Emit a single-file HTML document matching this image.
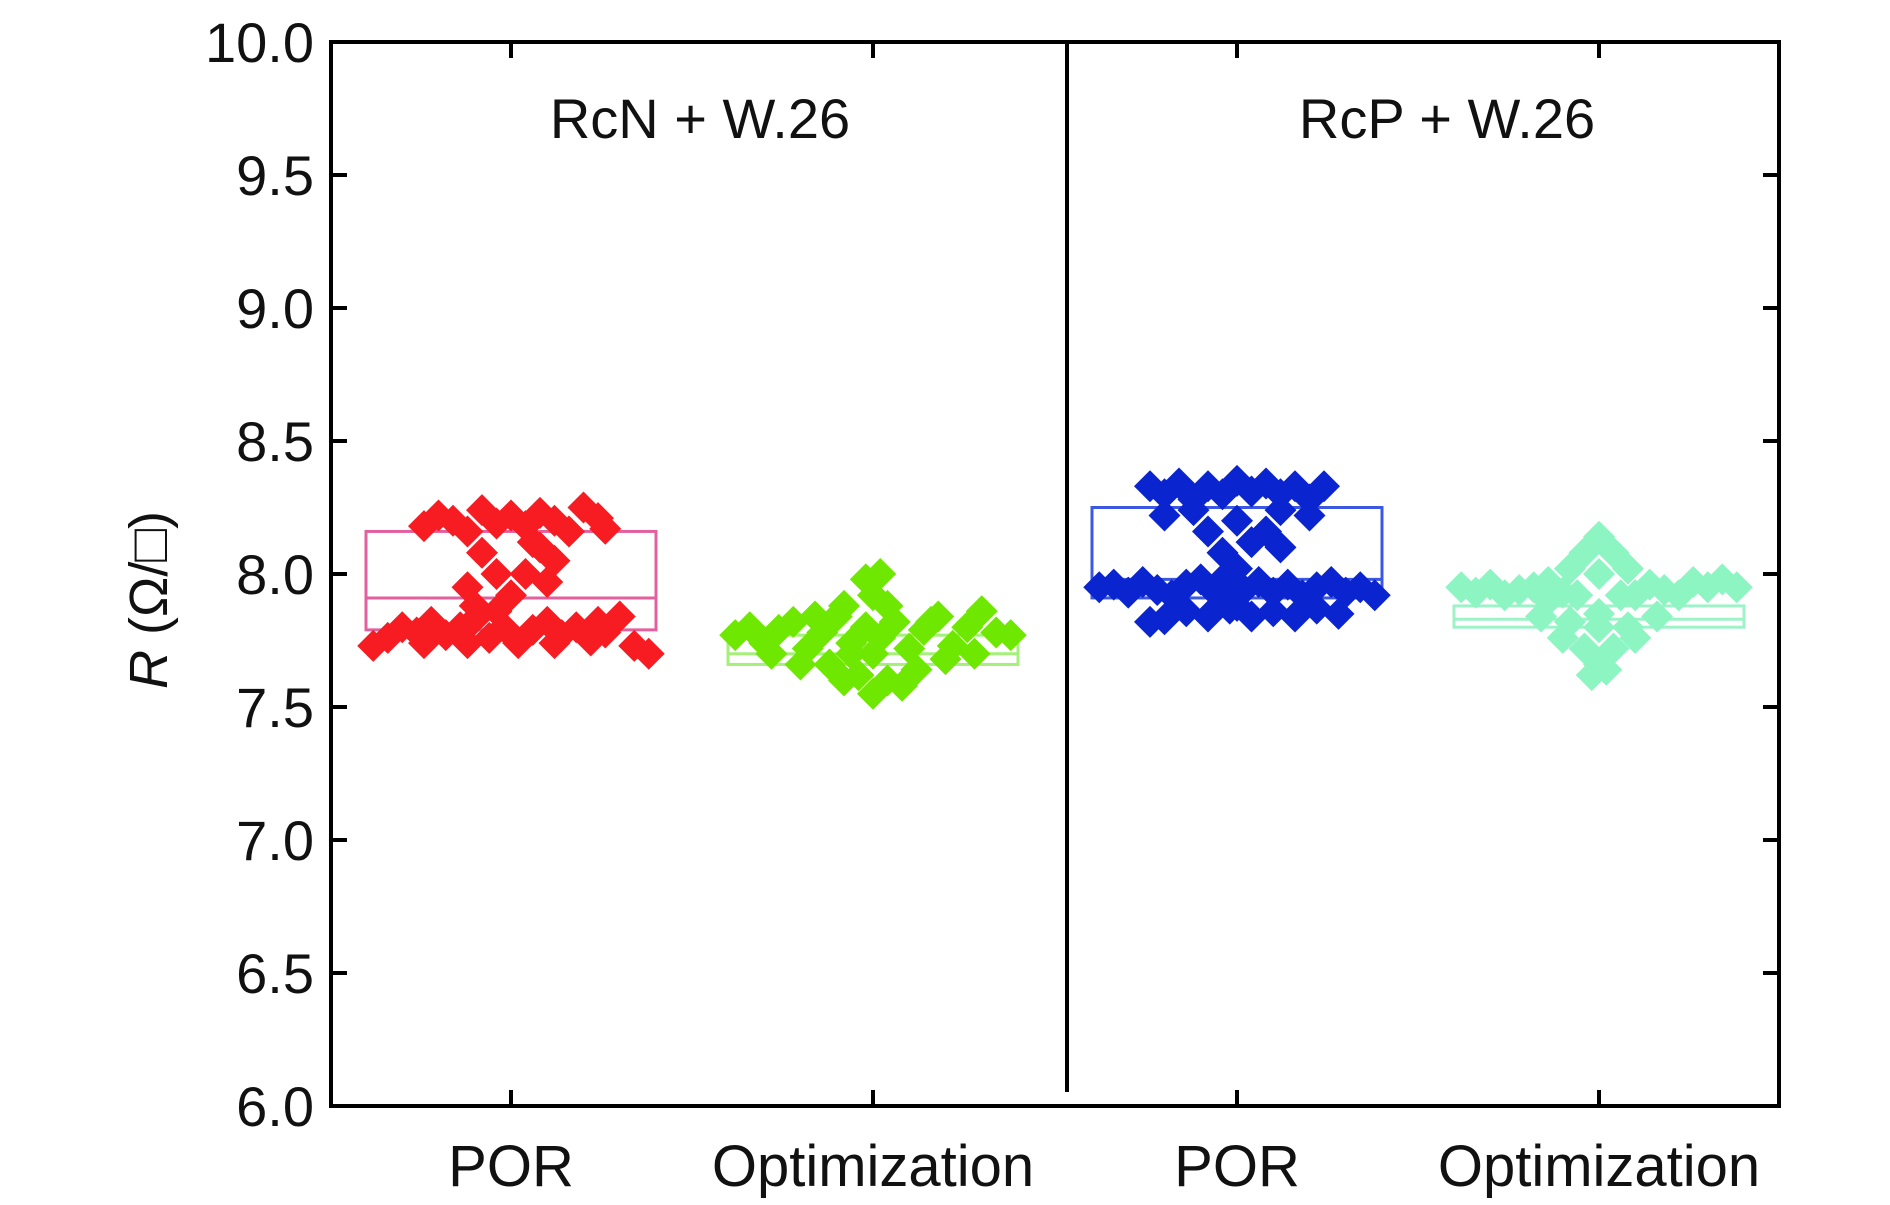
<!DOCTYPE html>
<html><head><meta charset="utf-8"><style>
html,body{margin:0;padding:0;background:#fff;}
svg{display:block;font-family:"Liberation Sans",sans-serif;}
</style></head><body>
<svg id="chart" width="1890" height="1205" viewBox="0 0 1890 1205"></svg>
<script>
const categories = ["POR","Optimization","POR","Optimization"];
const panelTitles = ["RcN + W.26","RcP + W.26"];
const yTicks = [6.0,6.5,7.0,7.5,8.0,8.5,9.0,9.5,10.0];
const yTickLabels = ["6.0","6.5","7.0","7.5","8.0","8.5","9.0","9.5","10.0"];
// box stats: [q1, median, q3]
const boxQ1 = [7.79, 7.66, 7.91, 7.80];
const boxMed = [7.91, 7.70, 7.98, 7.83];
const boxQ3 = [8.16, 7.77, 8.25, 7.88];
// scatter points [jitter (-1..1 of half box width), value]
const porN = [[-0.95,7.73],[-0.85,7.76],[-0.75,7.80],[-0.65,7.78],[-0.55,7.82],[-0.45,7.77],[-0.35,7.80],[-0.25,7.83],[-0.15,7.76],[-0.05,7.80],[0.05,7.74],[0.15,7.79],[0.25,7.82],[0.35,7.77],[0.45,7.80],[0.55,7.75],[0.65,7.78],[0.75,7.84],[0.85,7.73],[0.95,7.70],[-0.6,7.74],[0.3,7.74],[-0.3,7.74],[0.6,7.82],
 [-0.6,8.18],[-0.5,8.22],[-0.4,8.20],[-0.3,8.16],[-0.2,8.24],[-0.1,8.19],[0,8.22],[0.1,8.18],[0.2,8.23],[0.3,8.20],[0.4,8.16],[0.5,8.25],[0.6,8.21],[0.65,8.17],
 [-0.2,8.08],[0.2,8.10],[-0.1,8.0],[0.1,8.0],[0.3,8.05],[-0.3,7.95],[0,7.92],[0.25,7.97],[-0.25,7.88],[0.15,8.12],[-0.1,7.86]];
const optN = [[-0.95,7.77],[-0.85,7.80],[-0.75,7.74],[-0.65,7.79],[-0.55,7.82],[-0.45,7.72],[-0.35,7.78],[-0.25,7.84],[-0.15,7.70],[-0.05,7.80],[0.05,7.76],[0.15,7.82],[0.25,7.72],[0.35,7.79],[0.45,7.84],[0.55,7.73],[0.65,7.80],[0.75,7.86],[0.85,7.78],[0.95,7.77],
 [-0.7,7.70],[-0.5,7.66],[-0.3,7.66],[0.3,7.64],[0.5,7.68],[0.7,7.70],[-0.2,7.60],[0,7.55],[0.2,7.58],[-0.1,7.62],[0.1,7.60],
 [-0.2,7.88],[0,7.92],[0.1,7.88],[-0.05,7.98],[0.05,8.00],[-0.4,7.84],[0.4,7.82],[0,7.70],[-0.15,7.74]];
const porP = [[-0.6,8.33],[-0.5,8.30],[-0.4,8.34],[-0.3,8.28],[-0.2,8.33],[-0.1,8.30],[0,8.35],[0.1,8.31],[0.2,8.34],[0.3,8.30],[0.4,8.33],[0.5,8.28],[0.6,8.33],
 [-0.5,8.22],[-0.3,8.24],[0.3,8.24],[0.5,8.22],[-0.2,8.16],[0.2,8.16],[0,8.20],[-0.1,8.08],[0.1,8.12],[0.3,8.10],[0,8.02],[-0.1,7.98],
 [-0.95,7.95],[-0.85,7.96],[-0.75,7.93],[-0.65,7.97],[-0.55,7.94],[-0.45,7.92],[-0.35,7.96],[-0.25,7.98],[-0.15,7.93],[-0.05,7.95],[0.05,7.94],[0.15,7.97],[0.25,7.93],[0.35,7.96],[0.45,7.92],[0.55,7.95],[0.65,7.97],[0.75,7.93],[0.85,7.95],[0.95,7.92],
 [-0.5,7.83],[-0.35,7.86],[-0.2,7.84],[-0.05,7.87],[0.1,7.84],[0.25,7.86],[0.4,7.84],[0.55,7.87],[0.7,7.85],[-0.6,7.82],[0,7.88]];
const optP = [[-0.95,7.95],[-0.85,7.93],[-0.75,7.96],[-0.65,7.92],[-0.55,7.94],[-0.45,7.95],[-0.35,7.97],[-0.25,7.93],[0.25,7.92],[0.35,7.96],[0.45,7.94],[0.55,7.92],[0.65,7.97],[0.75,7.95],[0.85,7.98],[0.95,7.95],
 [-0.35,7.90],[-0.2,8.02],[-0.1,8.08],[0,8.14],[0.1,8.08],[0.2,8.02],[0,8.00],[-0.15,7.92],[0.15,7.92],[-0.2,7.82],[0,7.85],[0.2,7.80],
 [-0.25,7.76],[-0.1,7.72],[0,7.66],[0.1,7.72],[0.25,7.76],[-0.05,7.62],[0.05,7.64],[0,7.80],[-0.4,7.84],[0.4,7.84]];
const groups = [porN, optN, porP, optP];
const fillColors = ["#f61c22","#6ee800","#0a24cf","#8cf5c2"];
const boxColors = ["#e2609e","#a4f07a","#3c58e2","#9ef2c8"];

const NS = "http://www.w3.org/2000/svg";
const svg = document.getElementById("chart");
const L=331, R=1779, T=42, B=1106, DIV=1067;
const catX = [511, 873, 1237, 1599];
const halfW = 145;
function y(v){ return B - (v-6.0)/(10.0-6.0)*(B-T); }
function mk(tag, attrs){ const e=document.createElementNS(NS,tag); for(const k in attrs) e.setAttribute(k,attrs[k]); svg.appendChild(e); return e; }

for(let i=0;i<4;i++){
  const b = mk("rect",{x:catX[i]-halfW,y:y(boxQ3[i]),width:2*halfW,height:y(boxQ1[i])-y(boxQ3[i]),fill:"none",stroke:boxColors[i],"stroke-width":3});
  
  
  const m = mk("line",{x1:catX[i]-halfW,x2:catX[i]+halfW,y1:y(boxMed[i]),y2:y(boxMed[i]),stroke:boxColors[i],"stroke-width":3});
  
  
}
const s=16;
for(let i=0;i<4;i++){
  groups[i].forEach((p,j)=>{
    const cx=catX[i]+p[0]*halfW, cy=y(p[1]);
    const d = mk("polygon",{points:`${cx},${cy-s} ${cx+s},${cy} ${cx},${cy+s} ${cx-s},${cy}`,fill:fillColors[i]});
    
    
  });
}
const fr = mk("rect",{x:L,y:T,width:R-L,height:B-T,fill:"none",stroke:"#000","stroke-width":4});


const dv = mk("line",{x1:DIV,x2:DIV,y1:T,y2:B-14,stroke:"#000","stroke-width":4});


yTicks.forEach((v,i)=>{
  const yy=y(v);
  const t1 = mk("line",{x1:L,x2:L+16,y1:yy,y2:yy,stroke:"#000","stroke-width":4});
  
  
  const t2 = mk("line",{x1:R-16,x2:R,y1:yy,y2:yy,stroke:"#000","stroke-width":4});
  
  
  const tx = mk("text",{x:314,y:yy+20,"text-anchor":"end","font-size":56,fill:"#111"});
  tx.textContent=yTickLabels[i];
  
  
});
catX.forEach((cx,i)=>{
  const a = mk("line",{x1:cx,x2:cx,y1:B,y2:B-16,stroke:"#000","stroke-width":4});
  
  
  const b = mk("line",{x1:cx,x2:cx,y1:T,y2:T+16,stroke:"#000","stroke-width":4});
  
  
  const tx = mk("text",{x:cx,y:1186,"text-anchor":"middle","font-size":58,fill:"#111"});
  tx.textContent=categories[i];
  
  
});
[700,1447].forEach((cx,i)=>{
  const tx = mk("text",{x:cx,y:138,"text-anchor":"middle","font-size":56,fill:"#111"});
  tx.textContent=panelTitles[i];
  
  
});
</script>
<svg style="position:absolute;left:0;top:0" width="1890" height="1205">
<text x="0" y="0" transform="translate(167,600) rotate(-90)" text-anchor="middle" font-size="54" fill="#111" font-family="Liberation Sans, sans-serif"><tspan font-style="italic">R</tspan> (Ω/□)</text>
</svg>
</body></html>
